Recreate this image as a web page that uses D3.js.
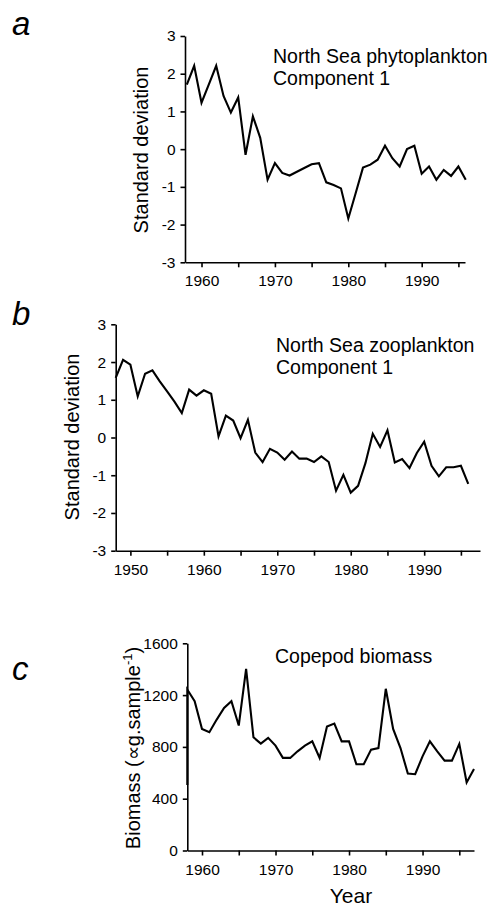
<!DOCTYPE html>
<html>
<head>
<meta charset="utf-8">
<script src="https://cdn.jsdelivr.net/npm/d3@7"></script>
<style>
body { margin: 0; background: #fff; }
svg text { font-family: "Liberation Sans", Arial, Helvetica, sans-serif; fill: #000; }
.axis path, .axis line { stroke: #000; stroke-width: 1.6; }
.axis text { font-size: 15.5px; font-family: "Liberation Sans", Arial, sans-serif; }
.series { fill: none; stroke: #000; stroke-width: 2.1; stroke-linejoin: miter; }
</style>
</head>
<body>
<div id="fig"></div>
<script>
// a: North Sea phytoplankton, component 1 (standard deviation units)
var phytoYears = [1958,1959,1960,1961,1962,1963,1964,1965,1966,1967,1968,1969,1970,1971,1972,1973,1974,1975,1976,1977,
                  1978,1979,1980,1981,1982,1983,1984,1985,1986,1987,1988,1989,1990,1991,1992,1993,1994,1995,1996];
var phytoValues = [1.71,2.21,1.23,1.72,2.21,1.41,0.97,1.37,-0.15,0.87,0.30,-0.81,-0.37,-0.63,-0.70,-0.60,-0.50,-0.40,-0.37,-0.88,
                   -0.95,-1.04,-1.84,-1.17,-0.49,-0.41,-0.28,0.09,-0.24,-0.46,0.00,0.09,-0.65,-0.46,-0.81,-0.55,-0.71,-0.46,-0.81];

// b: North Sea zooplankton, component 1
var zooYears = [1948,1949,1950,1951,1952,1953,1954,1955,1956,1957,1958,1959,1960,1961,1962,1963,1964,1965,1966,1967,
                1968,1969,1970,1971,1972,1973,1974,1975,1976,1977,1978,1979,1980,1981,1982,1983,1984,1985,1986,1987,
                1988,1989,1990,1991,1992,1993,1994,1995,1996];
var zooValues = [1.58,2.06,1.93,1.09,1.69,1.78,1.49,1.22,0.95,0.65,1.27,1.11,1.25,1.16,0.03,0.58,0.45,-0.02,0.47,-0.40,
                 -0.65,-0.30,-0.40,-0.59,-0.37,-0.56,-0.56,-0.65,-0.50,-0.65,-1.41,-0.99,-1.46,-1.28,-0.68,0.10,-0.25,0.19,-0.66,-0.57,
                 -0.81,-0.41,-0.11,-0.75,-1.03,-0.79,-0.79,-0.75,-1.23];

// c: copepod biomass (line starts with a drop along the axis)
var copYears = [1958,1958,1959,1960,1961,1962,1963,1964,1965,1966,1967,1968,1969,1970,1971,1972,1973,1974,1975,1976,1977,
                1978,1979,1980,1981,1982,1983,1984,1985,1986,1987,1988,1989,1990,1991,1992,1993,1994,1995,1996,1997];
var copValues = [505,1243,1153,939,913,1011,1101,1153,965,1403,874,826,870,810,715,715,766,810,843,715,958,
                 980,843,843,666,666,779,791,1249,939,791,594,589,727,843,766,694,694,823,526,630];

var sdTicks = [-3,-2,-1,0,1,2,3];
var bioTicks = [0,400,800,1200,1600];
var yearTicksA = [1960,1965,1970,1975,1980,1985,1990,1995];
var yearTicksB = [1950,1955,1960,1965,1970,1975,1980,1985,1990,1995];
var yearTicksC = [1960,1965,1970,1975,1980,1985,1990,1995];

var width = 494, height = 911;
var svg = d3.select("#fig").append("svg").attr("width", width).attr("height", height);

function drawPanel(p) {
  var x = d3.scaleLinear().domain(p.xDomain).range([p.left, p.right]);
  var y = d3.scaleLinear().domain(p.yDomain).range([p.bottom, p.top]);

  svg.append("g").attr("class", "axis")
    .attr("transform", "translate(0," + p.bottom + ")")
    .call(d3.axisBottom(x).tickValues(p.xTicks).tickSize(5).tickSizeOuter(0).tickPadding(8)
      .tickFormat(function(d) { return d % 10 === 0 ? d : ""; }));

  svg.append("g").attr("class", "axis")
    .attr("transform", "translate(" + p.left + ",0)")
    .call(d3.axisLeft(y).tickValues(p.yTicks).tickSize(4.5).tickSizeOuter(0).tickPadding(5)
      .tickFormat(function(d) { return String(d); }));

  var pts = p.years.map(function(yr, i) { return [yr, p.values[i]]; });
  var line = d3.line().x(function(d) { return x(d[0]); }).y(function(d) { return y(d[1]); });
  svg.append("path").attr("class", "series").attr("d", line(pts));

  svg.append("text").attr("x", 12).attr("y", p.letterY)
    .style("font-size", "33px").style("font-style", "italic").text(p.letter);

  var yl = svg.append("text")
    .attr("transform", "translate(" + p.ylabX + "," + p.ylabY + ") rotate(-90)")
    .attr("text-anchor", "middle").style("font-size", "20px");
  yl.append("tspan").text(p.ylabel);
  if (p.ylabelSup) {
    yl.append("tspan").attr("dy", -8).style("font-size", "13px").text(p.ylabelSup);
    yl.append("tspan").attr("dy", 8).text(")");
  }

  p.notes.forEach(function(t, i) {
    svg.append("text").attr("x", p.noteX).attr("y", p.noteY + i * 22.3)
      .style("font-size", "19.5px").text(t);
  });
}

drawPanel({
  letter: "a", letterY: 35,
  xDomain: [1957.75, 1995.9], left: 185, right: 465,
  yDomain: [-3, 3], top: 36, bottom: 262.3,
  xTicks: yearTicksA, yTicks: sdTicks,
  years: phytoYears, values: phytoValues,
  ylabel: "Standard deviation", ylabX: 148, ylabY: 150,
  notes: ["North Sea phytoplankton", "Component 1"], noteX: 273, noteY: 63
});

drawPanel({
  letter: "b", letterY: 325,
  xDomain: [1948, 1997.6], left: 115.7, right: 480,
  yDomain: [-3, 3], top: 324.3, bottom: 550.7,
  xTicks: yearTicksB, yTicks: sdTicks,
  years: zooYears, values: zooValues,
  ylabel: "Standard deviation", ylabX: 79, ylabY: 437,
  notes: ["North Sea zooplankton", "Component 1"], noteX: 276, noteY: 351.5
});

drawPanel({
  letter: "c", letterY: 680,
  xDomain: [1958, 1997], left: 187.3, right: 474,
  yDomain: [0, 1600], top: 643.3, bottom: 850.5,
  xTicks: yearTicksC, yTicks: bioTicks,
  years: copYears, values: copValues,
  ylabel: "Biomass (\u221dg.sample", ylabelSup: "-1", ylabX: 140, ylabY: 748,
  notes: ["Copepod biomass"], noteX: 275, noteY: 663
});

svg.append("text").attr("x", 351).attr("y", 903).attr("text-anchor", "middle")
  .style("font-size", "21px").text("Year");
</script>
</body>
</html>
